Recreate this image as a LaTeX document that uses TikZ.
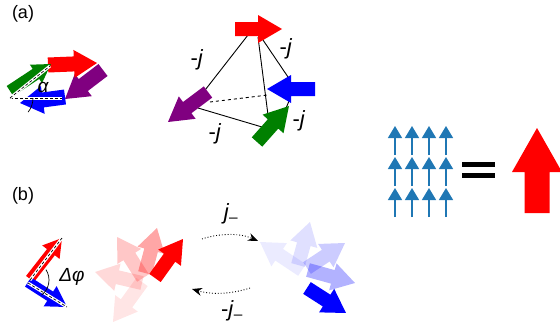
\documentclass[tikz,border=0pt]{standalone}
\usepackage{fontspec}
\setmainfont{Liberation Sans}
\usetikzlibrary{arrows.meta}
\definecolor{mplblue}{RGB}{31,119,180}
\definecolor{dgreen}{RGB}{0,128,0}
\definecolor{purp}{RGB}{128,0,128}
\def\fasw{7}\def\fahw{14}\def\fahl{23}
\newcommand\farrow[5][]{%
 \pgfmathsetmacro\faang{atan2((#3)-(#5),(#4)-(#2))}%
 \pgfmathsetmacro\falen{veclen((#4)-(#2),(#5)-(#3))}%
 \pgfmathsetmacro\fabase{\falen-\fahl}%
 \fill[#1,shift={(#2,#3)},rotate=\faang] (0,-\fasw) -- (\fabase,-\fasw) -- (\fabase,-\fahw) -- (\falen,0) -- (\fabase,\fahw) -- (\fabase,\fasw) -- (0,\fasw) -- cycle;}
\tikzset{
  lbl/.style={font=\fontsize{18}{20}\selectfont, inner sep=0pt},
  glbl/.style={font=\fontsize{19}{21}\selectfont, inner sep=0pt},
  jlbl/.style={font=\fontsize{22}{24}\selectfont, inner sep=0pt},
  edge/.style={black, line width=0.9pt},
  guide/.style={white, line width=3pt},
  guidedash/.style={black, line width=0.7pt, dash pattern=on 3pt off 2pt},
  spin/.style={mplblue, line width=1.5pt, -{Triangle[width=14pt,length=12pt]}},
  hop/.style={black, line width=0.9pt, dotted, -{Stealth[length=10pt,width=8pt]}},
}
\begin{document}
\begin{tikzpicture}[x=1pt,y=-1pt]
\useasboundingbox (0,0) rectangle (560,332);
% labels
\node[lbl] (la) at (23,14) {(a)};
\node[lbl] (lb) at (23,196) {(b)};

% ---------- (a) left ----------
\def\fasw{7.5}\def\fahw{14}\def\fahl{23}
\farrow[purp]{103}{70}{65}{99}
\farrow[blue]{65}{97}{20}{103}
\farrow[red]{48}{65}{97}{63}
\def\fasw{6}\def\fahw{11}\def\fahl{18}
\farrow[dgreen]{10}{91}{51}{64}
\coordinate (ao) at (10,98);
\coordinate (ah) at (62,98);
\coordinate (ad) at (50,66);
\draw[guide] (ao) -- (ah);
\draw[guidedash] (ao) -- (ah);
\draw[guide] (ao) -- (ad);
\draw[guidedash] (ao) -- (ad);
\draw[black, line width=0.7pt] (ao) ++(0:23) arc[start angle=0, end angle=38, radius=23];
\node[glbl] (alpha) at (43,87) {\itshape α};

% ---------- (a) tetrahedron ----------
\coordinate (t1) at (248,35); \coordinate (p1) at (202,94);
\coordinate (t2) at (258,37); \coordinate (g1) at (268,115);
\coordinate (t3) at (263,40); \coordinate (b1) at (288,77);
\coordinate (p2) at (198,108); \coordinate (g2) at (262,127);
\coordinate (p3) at (210,102); \coordinate (b2) at (268,95);
\coordinate (b3) at (289,101); \coordinate (g3) at (284,113);
\draw[edge] (t1) -- (p1);
\draw[edge] (t2) -- (g1);
\draw[edge] (t3) -- (b1);
\draw[edge] (p2) -- (g2);
\draw[edge, dashed] (p3) -- (b2);
\draw[edge] (b3) -- (g3);
\def\fasw{7}\def\fahw{14}\def\fahl{24}
\farrow[red]{235}{29}{282}{29}
\farrow[purp]{208}{92}{168}{122}
\farrow[blue]{315}{89}{267}{89}
\farrow[dgreen]{257}{142}{289}{106}
\node[jlbl] (j1) at (197,60) {-\textit{j}};
\node[jlbl] (j2) at (286,49) {-\textit{j}};
\node[jlbl] (j3) at (299,121) {-\textit{j}};
\node[jlbl] (j4) at (215,134) {-\textit{j}};

% ---------- spin lattice ----------
\foreach \cx in {395,412,429,446}{
  \foreach \ty/\tt in {155/126,186/157,217/188}{
    \draw[spin] (\cx,\ty) -- (\cx,\tt);
  }
}
\fill[black] (462,162) rectangle (495,167);
\fill[black] (462,173) rectangle (495,178);
\def\fasw{12.5}\def\fahw{25}\def\fahl{44}
\farrow[red]{537}{213}{537}{128}

% ---------- (b) left ----------
\def\fasw{5}\def\fahw{11}\def\fahl{18}
\farrow[red]{30}{279}{62}{238}
\def\fasw{5.5}\def\fahw{12}\def\fahl{20}
\farrow[blue]{28}{282}{67}{307}
\coordinate (bo1) at (30,280); \coordinate (bt1) at (62,238);
\coordinate (bo2) at (28,283); \coordinate (bt2) at (67,307);
\draw[guide] (bo1) -- (bt1); \draw[guidedash] (bo1) -- (bt1);
\draw[guide] (bo2) -- (bt2); \draw[guidedash] (bo2) -- (bt2);
\draw[black, line width=0.7pt] (bo1) ++(52:19) arc[start angle=52, end angle=-33, radius=19];
\node[glbl] (dphi) at (72,277) {\itshape Δφ};

% ---------- (b) red precession ----------
\def\fasw{7}\def\fahw{14}\def\fahl{23}
\farrow[red, fill opacity=0.1]{142}{282}{113}{322}
\farrow[red, fill opacity=0.15]{142}{283}{95}{272}
\farrow[red, fill opacity=0.22]{143}{278}{117}{237}
\farrow[red, fill opacity=0.35]{145}{273}{157}{228}
\farrow[red]{155}{278}{183}{239}

% ---------- (b) blue precession ----------
\farrow[blue, fill opacity=0.08]{302}{270}{260}{242}
\farrow[blue, fill opacity=0.12]{298}{265}{310}{222}
\farrow[blue, fill opacity=0.2]{307}{268}{345}{243}
\farrow[blue, fill opacity=0.3]{308}{270}{355}{283}
\farrow[blue]{307}{288}{346}{313}

% ---------- hopping ----------
\coordinate (h1s) at (202,239); \coordinate (h1e) at (258,241);
\coordinate (h2s) at (250,288); \coordinate (h2e) at (192,289);
\draw[hop] (h1s) .. controls (220,233) and (240,233) .. (h1e);
\draw[hop] (h2s) .. controls (232,294) and (212,295) .. (h2e);
\node[jlbl] (jm1) at (231,214) {\textit{j}\textsubscript{–}};
\node[jlbl] (jm2) at (232,311) {-\textit{j}\textsubscript{–}};
\end{tikzpicture}
\end{document}
